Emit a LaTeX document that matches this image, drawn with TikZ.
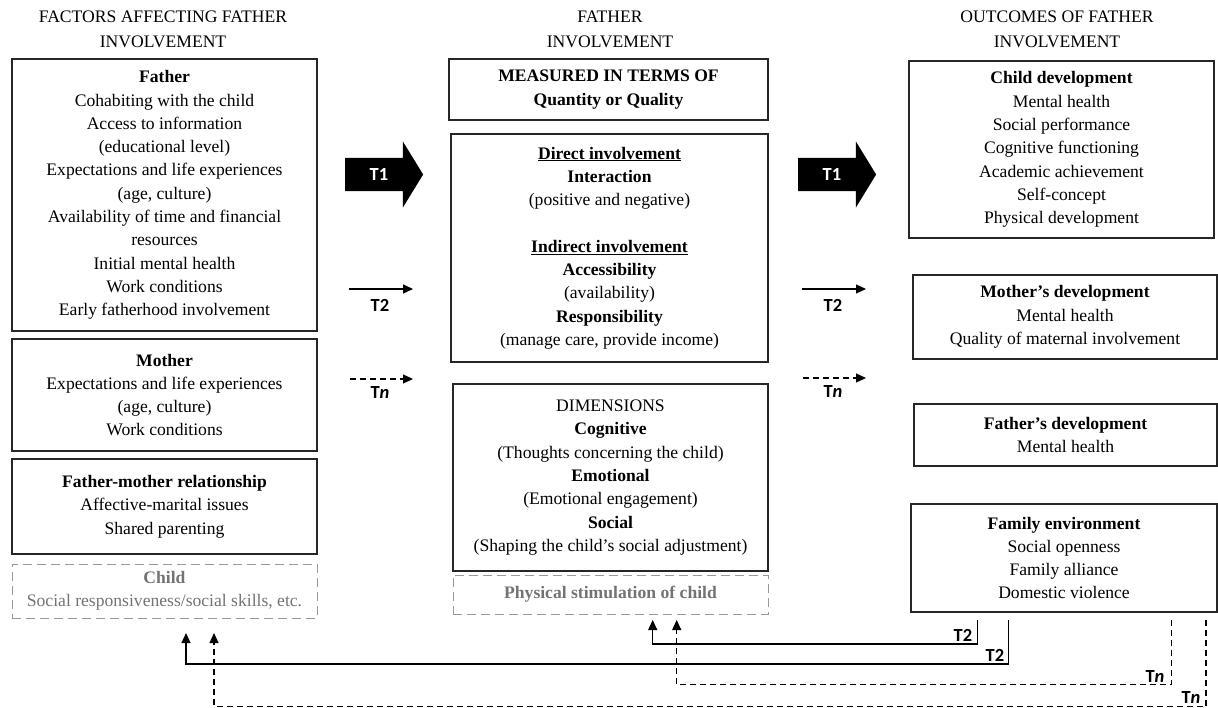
\documentclass[tikz,border=0pt]{standalone}
\usepackage{fontspec}
\setmainfont{Liberation Serif}
\newfontfamily\tfont{Carlito}
\usetikzlibrary{arrows.meta,shapes.arrows}
\newcommand\bxfont{\fontsize{17.6}{23.3}\selectfont}
\newcommand\hdfont{\fontsize{17.6}{24.5}\selectfont}
\newcommand\tlfont{\tfont\bfseries\fontsize{18.5}{20}\selectfont}
\begin{document}
\begin{tikzpicture}[x=1pt,y=-1pt,
  box/.style={draw=black!85, line width=1.2pt, align=center, inner sep=0pt, font=\bxfont},
  gbox/.style={draw=black!40, line width=1pt, dash pattern=on 9pt off 5pt, align=center, inner sep=0pt, font=\bxfont, text=black!55},
  hd/.style={align=center, font=\hdfont, inner sep=0pt},
  tlab/.style={font=\tlfont, inner sep=0pt},
  bigarrow/.style={single arrow, fill=black, text=white, font=\tlfont, text height=12pt, text depth=0pt, minimum height=78pt, minimum width=65.6pt, single arrow head extend=16.3pt, single arrow tip angle=117, inner xsep=0pt, inner ysep=10.5pt},
  solidc/.style={line width=1.2pt, -{Triangle[length=10pt,width=9pt]}},
  dashc/.style={line width=1.2pt, dash pattern=on 6pt off 4pt, -{Triangle[length=10pt,width=9pt]}}
]
\useasboundingbox (0,0) rectangle (1218,708);

% headers
\node[hd] (h1) at (163,29.5) {FACTORS AFFECTING FATHER\\INVOLVEMENT};
\node[hd] (h2) at (610,29.5) {FATHER\\INVOLVEMENT};
\node[hd] (h3) at (1057,29.5) {OUTCOMES OF FATHER\\INVOLVEMENT};

% left column
\node[box, minimum width=305pt, minimum height=272pt] (father) at (164.5,195)
 {\textbf{Father}\\Cohabiting with the child\\Access to information\\(educational level)\\Expectations and life experiences\\(age, culture)\\Availability of time and financial\\resources\\Initial mental health\\Work conditions\\Early fatherhood involvement};
\node[box, minimum width=305pt, minimum height=112pt] (mother) at (164.5,395)
 {\textbf{Mother}\\Expectations and life experiences\\(age, culture)\\Work conditions};
\node[box, minimum width=305pt, minimum height=95pt] (fmr) at (164.5,506.5)
 {\textbf{Father-mother relationship}\\Affective-marital issues\\Shared parenting};
\node[gbox, minimum width=305pt, minimum height=54pt] (child) at (164.5,591)
 {\textbf{Child}\\Social responsiveness/social skills, etc.};

% middle column
\node[box, minimum width=319pt, minimum height=61pt] (meas) at (608.5,89.5)
 {\textbf{MEASURED IN TERMS OF}\\\textbf{Quantity or Quality}};
\node[box, minimum width=317pt, minimum height=228pt] (direct) at (609.5,248)
 {\textbf{\underline{Direct involvement}}\\\textbf{Interaction}\\(positive and negative)\\[23.3pt]\textbf{\underline{Indirect involvement}}\\\textbf{Accessibility}\\(availability)\\\textbf{Responsibility}\\(manage care, provide income)};
\node[box, minimum width=315pt, minimum height=187pt] (dims) at (610.5,477.5)
 {DIMENSIONS\\\textbf{Cognitive}\\(Thoughts concerning the child)\\\textbf{Emotional}\\(Emotional engagement)\\\textbf{Social}\\(Shaping the child’s social adjustment)};
\node[gbox, minimum width=315pt, minimum height=39pt] (phys) at (610.5,594.5)
 {\textbf{Physical stimulation of child}};

% right column
\node[box, minimum width=305pt, minimum height=177pt] (childdev) at (1061.5,149.5)
 {\textbf{Child development}\\Mental health\\Social performance\\Cognitive functioning\\Academic achievement\\Self-concept\\Physical development};
\node[box, minimum width=304pt, minimum height=84pt] (motherdev) at (1065,317)
 {\textbf{Mother’s development}\\Mental health\\Quality of maternal involvement};
\node[box, minimum width=303pt, minimum height=62pt] (fatherdev) at (1065.5,435)
 {\textbf{Father’s development}\\Mental health};
\node[box, minimum width=306pt, minimum height=108pt] (famenv) at (1064,558)
 {\textbf{Family environment}\\Social openness\\Family alliance\\Domestic violence};

% big T1 arrows
\node[bigarrow] (t1l) at (379,174.5) {T1};
\node[bigarrow] (t1r) at (832,174.5) {T1};

% T2 / Tn arrows
\coordinate (t2la) at (349,289);  \coordinate (t2lb) at (413,289);
\coordinate (t2ra) at (802,289);  \coordinate (t2rb) at (866,289);
\coordinate (tnla) at (350,379);  \coordinate (tnlb) at (413,379);
\coordinate (tnra) at (803,378);  \coordinate (tnrb) at (866,378);
\draw[solidc] (t2la) -- (t2lb);
\draw[solidc] (t2ra) -- (t2rb);
\draw[dashc] (tnla) -- (tnlb);
\draw[dashc] (tnra) -- (tnrb);
\node[tlab] (l1) at (380,305) {T2};
\node[tlab] (l2) at (833,305) {T2};
\node[tlab] (l3) at (380,393) {T\textit{n}};
\node[tlab] (l4) at (833,392) {T\textit{n}};

% feedback connectors
\coordinate (a0) at (1008.3,620); \coordinate (a1) at (186,664); \coordinate (a2) at (186,633);
\coordinate (b0) at (977.7,620);  \coordinate (b1) at (652.7,644); \coordinate (b2) at (652.7,620);
\coordinate (c0) at (1171.7,620); \coordinate (c1) at (676.7,684.3); \coordinate (c2) at (676.7,620);
\coordinate (d0) at (1206,620);   \coordinate (d1) at (214,706.5); \coordinate (d2) at (214,633);
\draw[solidc] (a0) |- (a1) -- (a2);
\draw[solidc] (b0) |- (b1) -- (b2);
\draw[dashc] (c0) |- (c1) -- (c2);
\draw[dashc] (d0) |- (d1) -- (d2);
\node[tlab] (la) at (995,655) {T2};
\node[tlab] (lb) at (963,635) {T2};
\node[tlab] (lc) at (1155,676) {T\textit{n}};
\node[tlab] (ld) at (1191,697) {T\textit{n}};
\end{tikzpicture}
\end{document}
